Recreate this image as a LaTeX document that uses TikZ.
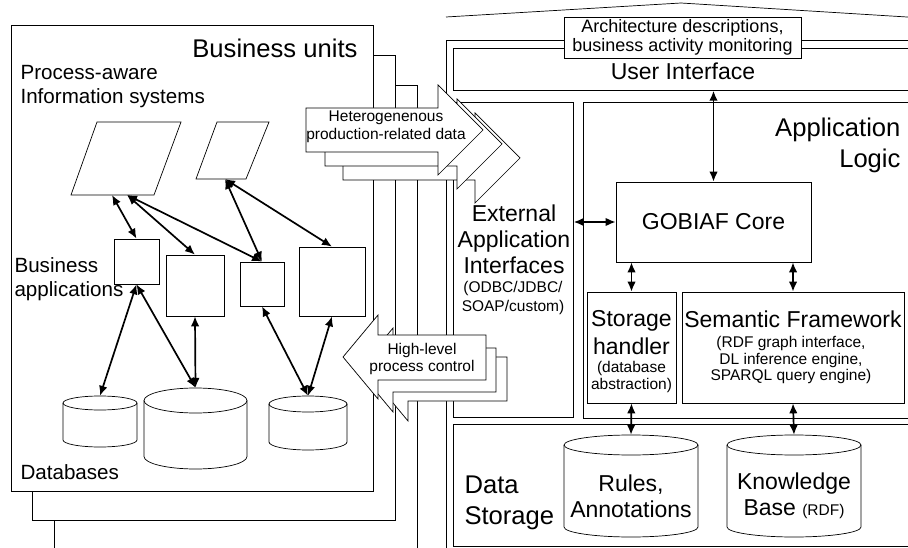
\documentclass[tikz,border=0pt]{standalone}
\usepackage{fontspec}
\setmainfont{Liberation Sans}
\usetikzlibrary{arrows.meta}

\newcommand{\sizeXL}{\fontsize{25.6}{31}\selectfont}
\newcommand{\sizeL}{\fontsize{23}{26}\selectfont}
\newcommand{\sizeM}{\fontsize{20.6}{24}\selectfont}
\newcommand{\sizeA}{\fontsize{18}{19.5}\selectfont}
\newcommand{\sizeS}{\fontsize{15.5}{17.5}\selectfont}

% cylinder: left, right, top, bottom, half height of the ellipse
\newcommand{\dbshape}[5]{%
  \draw[frame] (#1,#3+#5) -- (#1,#4-#5)
    arc[start angle=180, end angle=0, x radius={(#2-#1)/2}, y radius=#5]
    -- (#2,#3+#5)
    arc[start angle=0, end angle=-180, x radius={(#2-#1)/2}, y radius=#5] -- cycle;
  \draw[line width=0.7pt] (#1,#3+#5)
    arc[start angle=180, end angle=0, x radius={(#2-#1)/2}, y radius=#5];
}

\tikzset{
  frame/.style={draw, fill=white, line width=0.7pt},
  box/.style={draw, fill=white, line width=0.7pt, inner sep=0pt},
  slot/.style={inner sep=0pt},
  link/.style={{Latex[length=10pt,width=8.5pt]}-{Latex[length=10pt,width=8.5pt]}, line width=1.7pt},
  blockarrow/.style={draw, fill=white, line width=0.7pt},
}

\begin{document}
\begin{tikzpicture}[x=1pt, y=-1pt]
\useasboundingbox (0,0) rectangle (908,548);
\clip (0,0) rectangle (908,548);

% business units (stacked)
\draw[frame] (54,85) rectangle (417,560);
\draw[frame] (32,55) rectangle (395,520);
\draw[frame] (11,25) rectangle (373,491);

\node[anchor=east, font=\sizeXL] (bu) at (361,48) {Business units};
\node[anchor=west, align=left, font=\sizeM] (paistitle) at (17,87) {Process-aware\\Information systems};
\node[anchor=west, align=left, font=\sizeM] (apptitle) at (11,279) {Business\\applications};
\node[anchor=west, font=\sizeM] (dbtitle) at (17,472) {Databases};

% information systems
\draw[frame] (71,195) -- (154,195) -- (181,122) -- (97,122) -- cycle;
\draw[frame] (196,179) -- (246,179) -- (269,122) -- (217,122) -- cycle;
\coordinate (pais1a) at (112,195);
\coordinate (pais1b) at (127,195);
\coordinate (pais2) at (225,179);

% business applications
\node[box, minimum width=45, minimum height=45] (app1) at (136.5,261.5) {};
\node[box, minimum width=58, minimum height=61] (app2) at (195,285.5) {};
\node[box, minimum width=44, minimum height=44] (app3) at (262,284) {};
\node[box, minimum width=66, minimum height=69] (app4) at (332,281.5) {};

% databases
\dbshape{63}{137}{396}{447}{7}
\dbshape{144}{247}{388}{469}{12.5}
\dbshape{269}{347}{396}{450}{8}
\node[slot, minimum width=74, minimum height=51] (db1) at (100,421.5) {};
\node[slot, minimum width=103, minimum height=81] (db2) at (195.5,428.5) {};
\node[slot, minimum width=78, minimum height=54] (db3) at (308,423) {};

\draw[link] (pais1a) -- (app1.north);
\draw[link] (pais1b) -- (app2.north);
\draw[link] (pais1b) -- (app3.north);
\draw[link] (pais2) -- (app3.north);
\draw[link] (pais2) -- (app4.north);
\draw[link] (app1.south) -- (db1.north);
\draw[link] (app1.south) -- (db2.north);
\draw[link] (app2.south) -- (db2.north);
\draw[link] (app3.south) -- (db3.north);
\draw[link] (app4.south) -- (db3.north);

% GOBIAF side
\draw[line width=0.7pt] (446,17) -- (681,3) -- (915,17.5);
\draw[frame] (446,40) rectangle (930,560);
\node[box, anchor=north west, minimum width=477, minimum height=42] (ui) at (453,48) {};
\node[box, anchor=north west, minimum width=120, minimum height=315] (eai) at (453,102) {};
\node[box, anchor=north west, minimum width=347, minimum height=316] (logic) at (583,102) {};
\node[box, anchor=north west, minimum width=477, minimum height=122] (storage) at (453,424) {};

\node[box, minimum width=237, minimum height=41, align=center, font=\sizeA] (arch) at (682.5,37.5)
  {Architecture descriptions,\\business activity monitoring};
\node[font=\sizeL] (uititle) at (683,71) {User Interface};
\node[anchor=east, align=right, font=\sizeXL] (logictitle) at (904,145) {Application\\Logic};
\node[slot, align=center, font=\sizeL] (eaititle) at (514,239) {External\\Application\\Interfaces};
\node[slot, align=center, font=\sizeS] (eaisub) at (513,298) {(ODBC/JDBC/\\[1pt]SOAP/custom)};

\node[box, minimum width=195, minimum height=80, font=\sizeL] (core) at (713.5,222) {GOBIAF Core};

\node[box, minimum width=89, minimum height=111] (handler) at (631.5,347.5) {};
\node[align=center, font=\sizeL] (handlertitle) at (631.5,333) {Storage\\[2pt]handler};
\node[align=center, font=\sizeS] (handlersub) at (631.5,377) {(database\\abstraction)};

\node[box, minimum width=222, minimum height=111] (sem) at (793,347.5) {};
\node[font=\sizeL] (semtitle) at (793,319) {Semantic Framework};
\node[align=center, font=\sizeS] (semsub) at (791,360)
  {(RDF graph interface,\\[-1pt]DL inference engine,\\[-1pt]SPARQL query engine)};

\node[anchor=west, align=left, font=\sizeXL] (dstitle) at (461,503) {Data\\Storage};

\dbshape{564}{698}{435}{537}{10}
\dbshape{727}{861}{435}{537}{10}
\node[slot, minimum width=134, minimum height=102] (rules) at (631,486) {};
\node[align=center, font=\sizeL] (rulestitle) at (631,496) {Rules,\\Annotations};
\node[slot, minimum width=134, minimum height=102] (kb) at (794,486) {};
\node[align=center, font=\sizeL] (kbtitle) at (794,496) {Knowledge\\Base {\sizeS(RDF)}};

\draw[link] (core.north |- ui.south) -- (core.north);
\draw[link] (eai.east |- core.west) -- (core.west);
\draw[link] (core.south -| handler.north) -- (handler.north);
\draw[link] (core.south -| sem.north) -- (sem.north);
\draw[link] (handler.south) -- (rules.north);
\draw[link] (sem.south) -- (kb.north);

% production data, to the right
\draw[blockarrow, shift={(37,28)}] (306,108) -- (438,108) -- (438,85) -- (483,130) -- (438,175) -- (438,152) -- (306,152) -- cycle;
\draw[blockarrow, shift={(19,14)}] (306,108) -- (438,108) -- (438,85) -- (483,130) -- (438,175) -- (438,152) -- (306,152) -- cycle;
\draw[blockarrow] (306,108) -- (438,108) -- (438,85) -- (483,130) -- (438,175) -- (438,152) -- (306,152) -- cycle;
\node[align=center, font=\sizeS] (datatext) at (386,127) {Heterogenenous\\production-related data};

% process control, to the left
\draw[blockarrow] (373,379) -- (408,337) -- (408,357) -- (507,357) -- (507,401) -- (408,401) -- (408,421) -- cycle;
\draw[blockarrow] (358,370) -- (393,328) -- (393,348) -- (496,348) -- (496,392) -- (393,392) -- (393,412) -- cycle;
\draw[blockarrow] (343,357) -- (378,315) -- (378,335) -- (486,335) -- (486,380) -- (378,380) -- (378,399) -- cycle;
\node[align=center, font=\sizeS] (controltext) at (422,359) {High-level\\process control};
\end{tikzpicture}
\end{document}
